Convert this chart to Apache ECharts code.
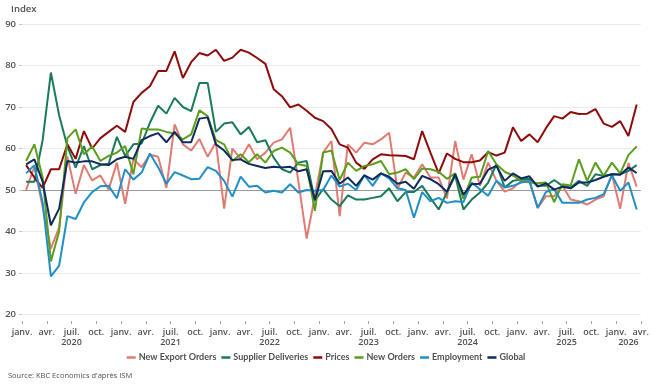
<!DOCTYPE html>
<html><head><meta charset="utf-8">
<script src="https://cdn.jsdelivr.net/npm/echarts@6/dist/echarts.min.js"></script>
<style>html,body{margin:0;padding:0;background:#fff}#c{width:652px;height:388px}</style>
</head><body><div id="c"></div>
<script>
// Months Jan 2020 .. Mar 2026
const monthNames = ['janv.','févr.','mars','avr.','mai','juin','juil.','août','sept.','oct.','nov.','déc.'];
const years = ['2020','2021','2022','2023','2024','2025','2026'];
const tickMonthLabels = ['janv.','avr.','juil.','oct.'];
const categories = [];
for (let y = 2020; y <= 2026; y++) for (let m = 0; m < 12; m++) { if (y === 2026 && m > 2) break; categories.push(monthNames[m] + ' ' + y); }

const newExportOrders = [
 50.0,55.6,45.9,35.9,41.0,58.1,49.1,56.0,52.3,53.5,50.1,56.6,
 46.7,57.5,55.5,58.5,58.0,50.5,65.8,61.0,59.5,62.3,58.0,61.5,
 45.5,60.0,57.5,61.0,57.4,59.0,61.4,62.2,65.0,52.0,38.3,48.5,
 59.0,61.8,43.7,61.0,59.0,61.4,61.0,62.2,63.8,50.2,54.2,53.0,
 56.2,53.0,53.0,48.0,61.8,52.5,58.6,51.0,56.6,52.2,49.6,50.4,
 52.2,52.2,45.7,48.5,48.5,51.0,47.7,47.3,46.5,47.7,48.5,53.8,
 45.5,56.5,50.8];
const supplierDeliveries = [
 52.0,52.0,62.0,78.3,68.0,60.5,55.4,60.6,55.0,56.0,56.3,62.8,
 58.2,61.0,61.2,66.2,70.3,68.4,72.2,70.0,69.0,75.8,75.8,64.0,
 66.0,66.3,63.4,65.2,61.5,62.0,57.8,55.0,54.2,56.6,57.0,47.5,
 50.2,47.7,46.1,48.7,47.7,47.7,48.1,48.5,50.4,47.3,49.5,49.5,
 51.0,48.1,45.3,49.4,53.5,45.3,47.7,49.4,51.8,56.2,50.6,52.2,
 52.6,52.7,51.0,51.0,52.4,51.0,50.6,52.2,51.0,53.8,53.4,53.8,
 53.8,54.6,56.0];
const prices = [
 56.0,53.0,50.5,55.0,55.0,61.0,57.5,64.2,60.0,62.5,64.0,65.5,
 64.0,71.2,73.4,75.0,78.7,78.7,83.4,77.0,80.8,83.0,82.4,83.8,
 81.1,81.9,83.8,83.1,81.8,80.4,74.3,72.6,69.9,70.6,69.1,67.4,
 66.6,64.7,61.0,60.2,56.6,55.1,57.4,58.6,58.4,58.3,58.2,57.4,
 64.2,59.0,54.0,58.8,57.5,56.7,56.7,57.1,59.1,58.3,59.0,65.1,
 61.8,63.4,61.5,64.9,67.8,67.2,68.8,68.3,68.4,69.5,66.0,65.2,
 66.6,63.0,70.6];
const newOrders = [
 57.0,61.0,53.0,32.8,40.0,62.5,64.6,58.6,60.5,57.0,58.2,59.0,
 60.6,53.8,64.8,64.6,64.6,64.0,63.6,62.2,63.4,69.2,67.8,62.0,
 61.0,57.0,58.6,56.7,58.6,56.6,59.4,60.2,59.0,56.2,55.8,45.0,
 59.0,59.5,52.4,56.6,54.6,55.8,56.2,57.0,53.8,54.2,55.0,52.6,
 55.2,55.0,54.4,52.7,54.0,47.9,53.0,53.2,59.4,56.2,54.4,53.5,
 52.2,51.8,51.6,51.8,47.1,51.4,51.1,57.4,52.2,56.6,53.4,56.6,
 54.0,58.4,60.5];
const employment = [
 54.0,56.0,47.0,29.2,31.8,43.7,43.0,47.0,49.5,50.9,51.0,48.0,
 55.0,52.5,54.2,58.8,55.5,51.5,54.3,53.5,52.6,52.7,55.5,54.6,
 52.2,48.4,53.2,50.8,51.0,49.4,49.8,49.4,51.4,49.4,50.0,49.8,
 50.0,53.5,50.8,51.5,50.0,53.6,51.0,54.0,52.8,50.4,50.0,43.3,
 49.5,47.3,48.1,46.9,47.3,47.1,51.8,50.2,48.6,52.2,50.6,51.0,
 51.8,52.2,45.7,49.5,50.2,46.9,46.9,46.9,47.7,48.1,49.0,53.5,
 49.8,51.8,45.3];
const globalIdx = [
 56.2,57.4,52.0,41.5,45.5,57.0,56.6,56.9,56.9,56.2,56.0,57.4,
 58.0,57.5,62.0,63.0,63.7,61.5,64.0,61.5,61.5,67.2,67.5,61.0,
 59.5,57.2,57.4,56.3,55.8,55.3,55.6,55.4,55.6,54.5,55.0,47.6,
 54.5,54.6,51.5,53.0,51.0,53.5,52.5,54.0,53.2,51.5,52.0,50.3,
 53.4,52.6,51.4,49.6,53.8,48.9,51.4,51.5,54.9,55.8,52.2,54.0,
 52.8,53.3,50.8,51.6,50.1,50.8,50.4,51.8,51.8,52.4,53.2,53.8,
 53.7,55.4,54.1];

const seriesDefs = [
  {name:'New Export Orders', data:newExportOrders, color:'#e07b73'},
  {name:'Supplier Deliveries', data:supplierDeliveries, color:'#1b7a5c'},
  {name:'Prices', data:prices, color:'#8e0b0b'},
  {name:'New Orders', data:newOrders, color:'#5b9e1c'},
  {name:'Employment', data:employment, color:'#1f8fc6'},
  {name:'Global', data:globalIdx, color:'#0f2a5c'}
];
const FONT = 'Open Sans';
const LFONT = 'Lato';
const txt = '#505050';
const nMonths = categories.length;

const chart = echarts.init(document.getElementById('c'), null, {renderer:'canvas'});
chart.setOption({
  animation:false,
  textStyle:{fontFamily:FONT},
  grid:{left:22, right:11, top:24, bottom:73.5, containLabel:false},
  graphic:[
    {type:'text', left:11, top:4, style:{text:'Index', fontFamily:FONT, fontSize:9.5, fontWeight:600, fill:txt}},
    {type:'text', left:8, top:372, style:{text:"Source: KBC Economics d'après ISM", fontFamily:FONT, fontSize:7.5, fill:txt}}
  ],
  legend:{
    data:seriesDefs.map(s=>s.name), bottom:21, left:'center', icon:'rect', itemWidth:9, itemHeight:2.5, itemGap:5,
    textStyle:{fontFamily:LFONT, fontSize:9, fontWeight:'bold', color:txt, padding:[0,0,0,-2]}
  },
  xAxis:[
    {type:'category', data:categories, boundaryGap:true, show:false},
    {type:'value', min:0, max:nMonths, interval:3, position:'bottom', offset:6.5,
     axisLine:{show:false}, splitLine:{show:false},
     axisTick:{show:true, length:3, lineStyle:{color:'#a0a0a0'}},
     axisLabel:{show:true, margin:7, fontFamily:FONT, fontSize:9, fontWeight:600, color:txt,
       showMinLabel:true, showMaxLabel:true,
       formatter:v=>tickMonthLabels[Math.round(v/3)%4]}},
    {type:'value', min:0, max:nMonths, interval:1.5, position:'bottom', offset:6.5,
     axisLine:{show:false}, splitLine:{show:false}, axisTick:{show:false},
     axisLabel:{show:true, margin:17, fontFamily:FONT, fontSize:9, fontWeight:600, color:txt,
       showMinLabel:true, showMaxLabel:true,
       formatter:v=>{
         const k = Math.round(v*2)/2;
         if ((k-6) % 12 === 0 && k < 72) return years[(k-6)/12];
         if (k === 73.5) return years[6];
         return '';
       }}}
  ],
  yAxis:{type:'value', min:20, max:90, interval:10,
    axisLine:{show:false},
    axisTick:{show:true, length:3, lineStyle:{color:'#c8c8c8'}},
    axisLabel:{margin:6, fontFamily:FONT, fontSize:9.5, fontWeight:600, color:txt},
    splitLine:{lineStyle:{color:'#ebebeb', width:1}}},
  series:seriesDefs.map((s,i)=>({
    name:s.name, type:'line', xAxisIndex:0, data:s.data, symbol:'none',
    lineStyle:{width:2, color:s.color}, itemStyle:{color:s.color},
    z: 2+i,
    markLine: i===0 ? {silent:true, symbol:['none','none'], label:{show:false},
      lineStyle:{color:'#9a9a9a', width:1.2, type:'solid'}, data:[{yAxis:50}], z:1} : undefined
  }))
});
</script></body></html>
